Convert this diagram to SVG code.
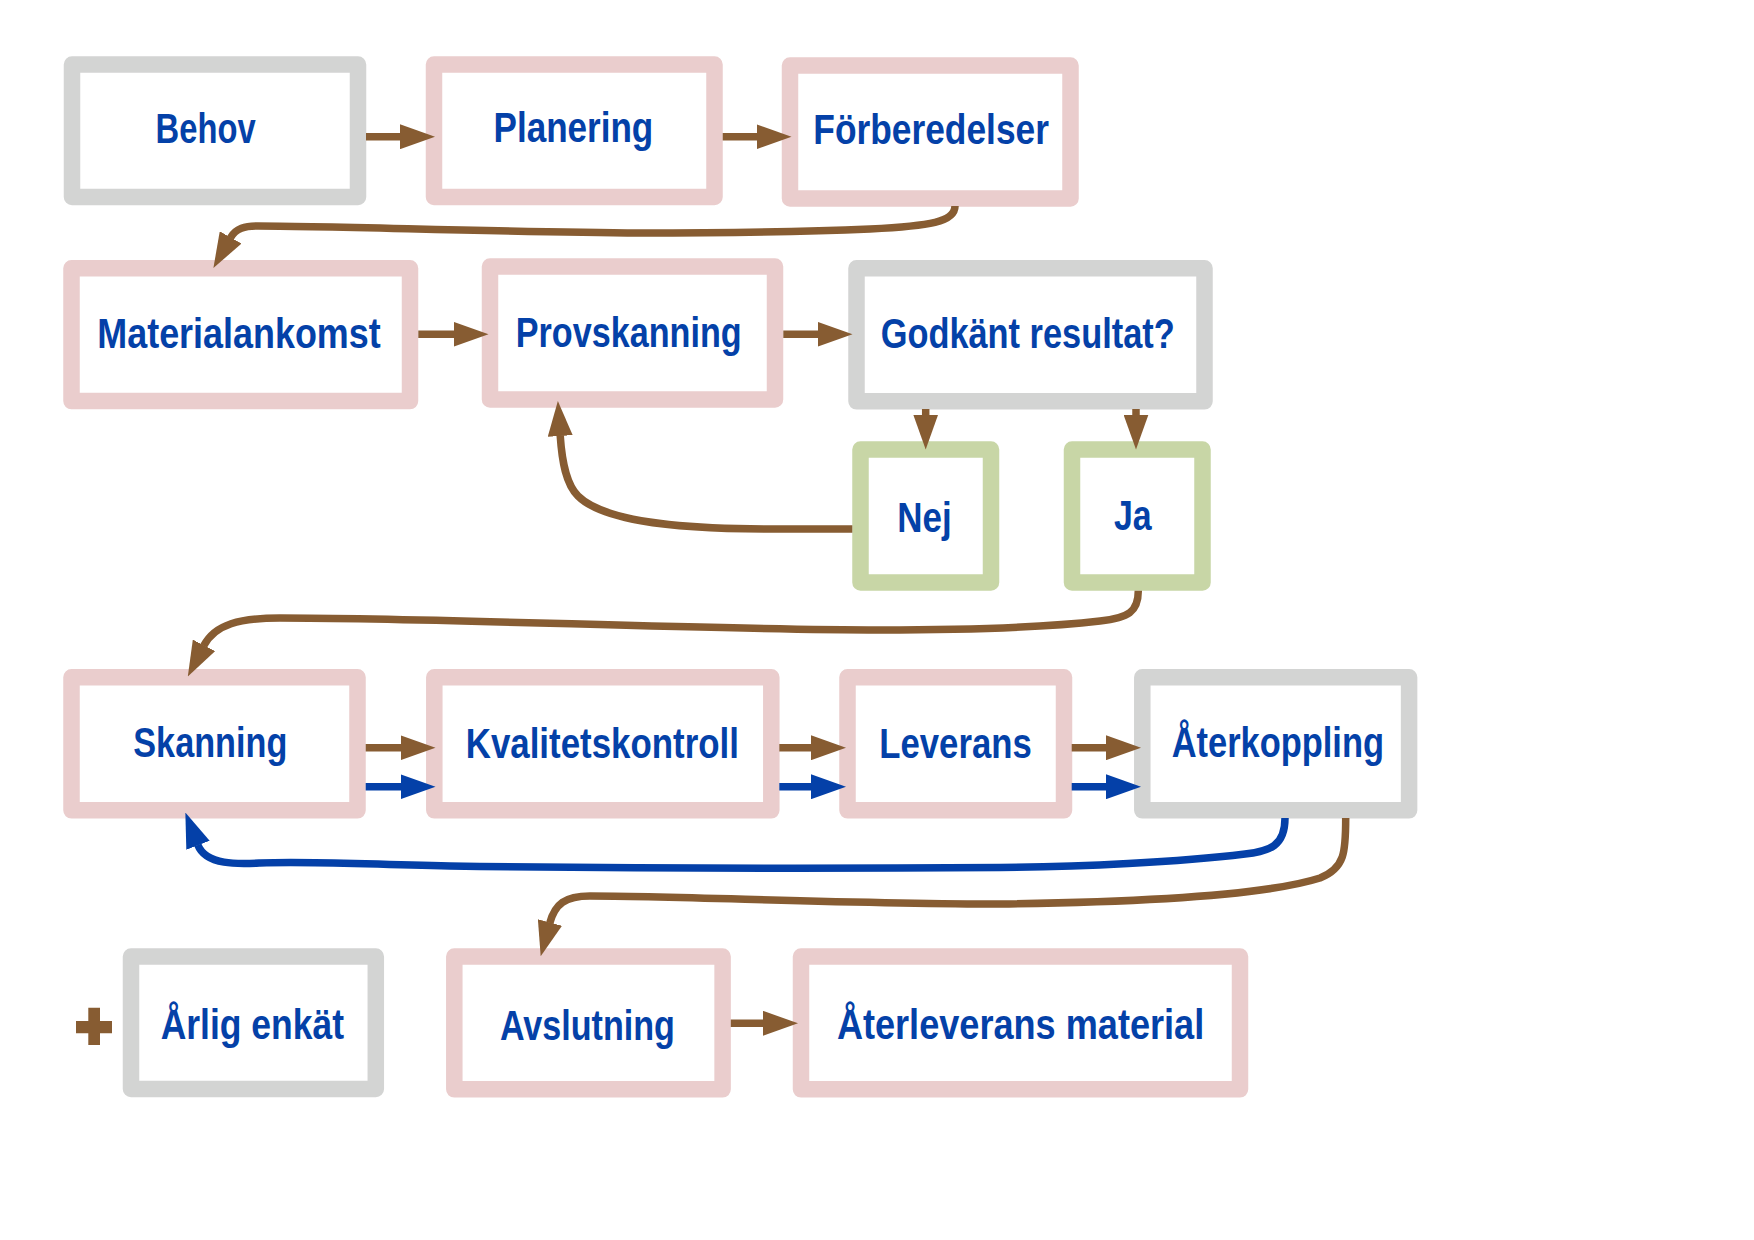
<svg xmlns="http://www.w3.org/2000/svg" width="1754" height="1240" viewBox="0 0 1754 1240">
<style>
  .box { fill: #ffffff; stroke-width: 16.5; stroke-linejoin: round; }
  .pink { stroke: #EACDCD; }
  .gray { stroke: #D3D4D3; }
  .green { stroke: #C8D6A6; }
  .lbl { font-family: "Liberation Sans Narrow", "Liberation Sans", Arial, sans-serif; font-weight: bold; font-size: 42.5px; fill: #0441A8; }
  .cb { fill: none; stroke: #875C32; stroke-width: 7.5; marker-end: url(#hb); }
  .cu { fill: none; stroke: #0440A8; stroke-width: 7.5; marker-end: url(#hu); }
</style>
<defs>
  <marker id="hb" markerUnits="userSpaceOnUse" viewBox="0 0 35 25" markerWidth="35" markerHeight="25" refX="0.5" refY="12.5" orient="auto">
    <path d="M0,0 L35,12.5 L0,25 z" fill="#875C32"/>
  </marker>
  <marker id="hu" markerUnits="userSpaceOnUse" viewBox="0 0 35 25" markerWidth="35" markerHeight="25" refX="0.5" refY="12.5" orient="auto">
    <path d="M0,0 L35,12.5 L0,25 z" fill="#0440A8"/>
  </marker>
</defs>
<rect width="1754" height="1240" fill="#ffffff"/>

<g id="behov"><rect class="box gray" x="72" y="64.5" width="286" height="132.5"/><text class="lbl" x="155.6" y="143.3" textLength="100" lengthAdjust="spacingAndGlyphs">Behov</text></g>
<g id="planering"><rect class="box pink" x="434" y="64.5" width="280.5" height="132.5"/><text class="lbl" x="493.5" y="142" textLength="159.8" lengthAdjust="spacingAndGlyphs">Planering</text></g>
<g id="forberedelser"><rect class="box pink" x="790" y="65.5" width="280.5" height="133"/><text class="lbl" x="813.3" y="144" textLength="235.7" lengthAdjust="spacingAndGlyphs">Förberedelser</text></g>

<g id="materialankomst"><rect class="box pink" x="71.5" y="268.3" width="338.5" height="132.8"/><text class="lbl" x="97.3" y="347.7" textLength="283.4" lengthAdjust="spacingAndGlyphs">Materialankomst</text></g>
<g id="provskanning"><rect class="box pink" x="490" y="266.5" width="285" height="133"/><text class="lbl" x="515.7" y="346.5" textLength="226" lengthAdjust="spacingAndGlyphs">Provskanning</text></g>
<g id="godkant"><rect class="box gray" x="856.5" y="268.3" width="348" height="133"/><text class="lbl" x="880.7" y="347.8" textLength="294" lengthAdjust="spacingAndGlyphs">Godkänt resultat?</text></g>

<g id="nej"><rect class="box green" x="860.5" y="449.5" width="130.5" height="133"/><text class="lbl" x="897.3" y="531.6" textLength="54.4" lengthAdjust="spacingAndGlyphs">Nej</text></g>
<g id="ja"><rect class="box green" x="1072" y="449.5" width="130.5" height="133"/><text class="lbl" x="1114" y="529.5" textLength="37.7" lengthAdjust="spacingAndGlyphs">Ja</text></g>

<g id="skanning"><rect class="box pink" x="71.5" y="677.3" width="286" height="133"/><text class="lbl" x="133.3" y="757" textLength="154" lengthAdjust="spacingAndGlyphs">Skanning</text></g>
<g id="kvalitetskontroll"><rect class="box pink" x="434.3" y="677.3" width="337" height="133"/><text class="lbl" x="465.7" y="757.5" textLength="273.3" lengthAdjust="spacingAndGlyphs">Kvalitetskontroll</text></g>
<g id="leverans"><rect class="box pink" x="847.5" y="677.3" width="216.5" height="133"/><text class="lbl" x="879.3" y="757.5" textLength="152.4" lengthAdjust="spacingAndGlyphs">Leverans</text></g>
<g id="aterkoppling"><rect class="box gray" x="1142.3" y="677.3" width="266.8" height="133"/><text class="lbl" x="1171.7" y="757" textLength="212.3" lengthAdjust="spacingAndGlyphs">Återkoppling</text></g>

<g id="plus"><path d="M88.3,1007.7 H100 V1021 H112 V1033.3 H100 V1045 H88.3 V1033.3 H76 V1021 H88.3 z" fill="#875C32"/></g>
<g id="arlig-enkat"><rect class="box gray" x="131" y="956.5" width="244.8" height="132.5"/><text class="lbl" x="160.7" y="1038.5" textLength="183.3" lengthAdjust="spacingAndGlyphs">Årlig enkät</text></g>
<g id="avslutning"><rect class="box pink" x="454.3" y="956.5" width="268.3" height="132.8"/><text class="lbl" x="500" y="1039.5" textLength="174.8" lengthAdjust="spacingAndGlyphs">Avslutning</text></g>
<g id="aterleverans"><rect class="box pink" x="801" y="956.5" width="439" height="132.8"/><text class="lbl" x="836.9" y="1039.3" textLength="367.3" lengthAdjust="spacingAndGlyphs">Återleverans material</text></g>

<g id="connectors">
  <path class="cb" d="M366,136.7 H400.5"/>
  <path class="cb" d="M722.7,136.7 H757"/>
  <path class="cb" d="M955,206 C955,222 930,226 870,229 C800,232 720,233 640,233 C500,232 330,226 258,226 C245,226 236,228 230.4,237.9"/>
  <path class="cb" d="M418.3,334.3 H454"/>
  <path class="cb" d="M783.3,334.3 H818"/>
  <path class="cb" d="M925.7,409 V415"/>
  <path class="cb" d="M1136,409 V415"/>
  <path class="cb" d="M852.3,529 L770,529 C660,529 600,518 578,496 C566,484 562,462 560.2,435.5"/>
  <path class="cb" d="M1138.3,590.7 C1138.3,612 1128,618 1100,621 C1040,628 960,630 880,630 C700,630 450,618 280,618 C240,618 215,624 203.7,645.8"/>
  <path class="cb" d="M365.7,747.7 H401"/>
  <path class="cu" d="M365.7,786.7 H401"/>
  <path class="cb" d="M779.3,747.7 H811.5"/>
  <path class="cu" d="M779.3,786.7 H811.5"/>
  <path class="cb" d="M1071.7,747.7 H1106.5"/>
  <path class="cu" d="M1071.7,786.7 H1106.5"/>
  <path class="cu" d="M1285,818 C1285,846 1270,851 1245,854 C1180,862 1080,867 1000,867.5 C800,869 600,868 450,866 C350,864 310,861 260,863 C240,864 206,866 197.8,844.8"/>
  <path class="cb" d="M1345.7,818 C1345.7,852 1345,868 1320,878 C1270,894 1150,902 1000,904 C850,904 680,896 590,896 C565,896 555,904 549.8,923"/>
  <path class="cb" d="M730.8,1023.3 H763.5"/>
</g>
</svg>
